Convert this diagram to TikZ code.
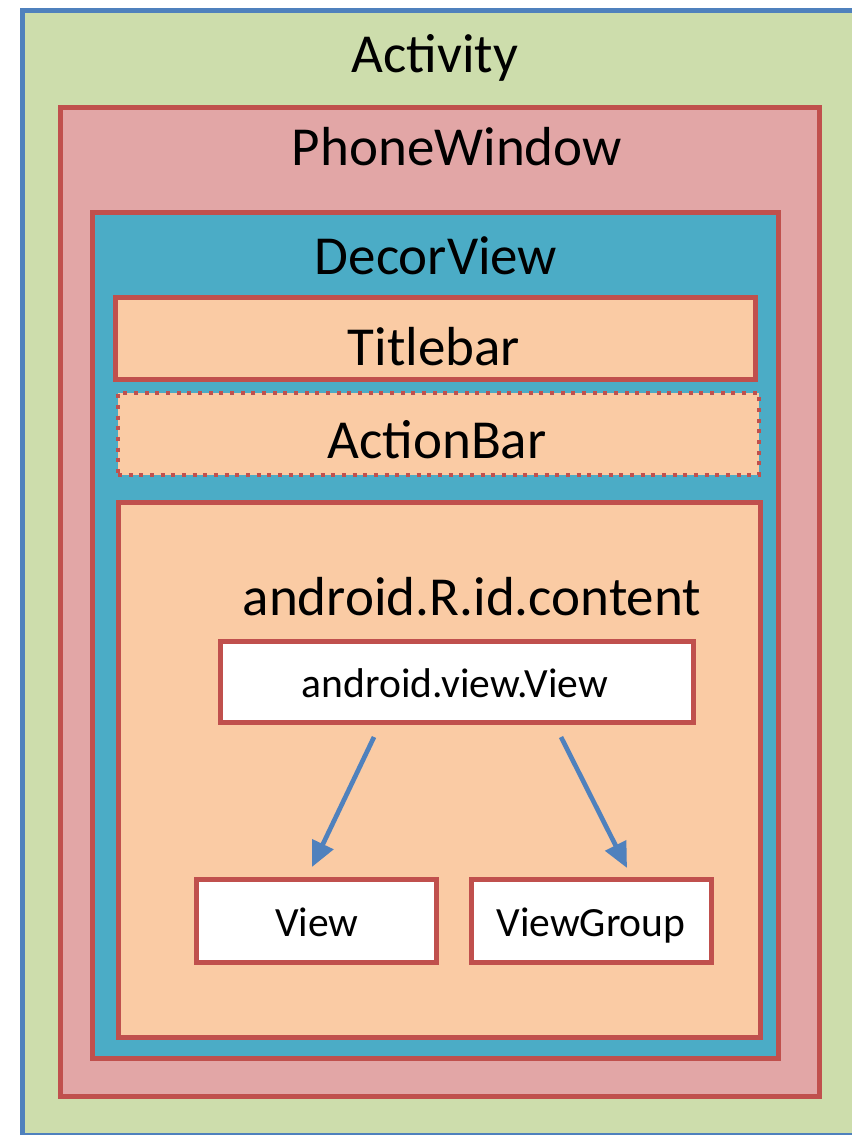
\documentclass[tikz,border=0pt]{standalone}
\usepackage{fontspec}
\setmainfont{Carlito}
\usetikzlibrary{fit,arrows.meta}
\definecolor{actgreen}{RGB}{205,221,172}
\definecolor{outerblue}{RGB}{79,129,189}
\definecolor{boxred}{RGB}{192,80,77}
\definecolor{winpink}{RGB}{226,166,166}
\definecolor{decorblue}{RGB}{75,172,198}
\definecolor{peach}{RGB}{250,203,164}
\definecolor{arrowblue}{RGB}{79,129,189}
\begin{document}
\begin{tikzpicture}[x=0.75pt,y=-0.75pt,
  frame/.style={draw=boxred, line width=3.75pt, inner sep=0pt, outer sep=0pt},
  dotframe/.style={draw=boxred, line width=3pt, dash pattern=on 3pt off 5pt, inner sep=0pt, outer sep=0pt},
  big/.style={font=\fontsize{41.25}{50}\selectfont, anchor=base, inner sep=0pt},
  small/.style={font=\fontsize{31.2}{38}\selectfont, anchor=base, inner sep=0pt},
  arr/.style={draw=arrowblue, line width=3.5pt, -{Triangle[length=19pt,width=17pt]}}]
\useasboundingbox (0,0) rectangle (852,1135);
\clip (0,0) rectangle (852,1135);
\fill[white] (0,0) rectangle (852,1135);
% boxes
\node[fit={(22.5,10.5) (880,1135.5)}, draw=outerblue, fill=actgreen, line width=3.75pt, inner sep=0pt] (activity) {};
\node[fit={(60.5,107.5) (819.5,1096.5)}, frame, fill=winpink] (phonewindow) {};
\node[fit={(92.5,212.5) (778.5,1058.5)}, frame, fill=decorblue] (decorview) {};
\node[fit={(115.5,297.5) (755.5,379.5)}, frame, fill=peach] (titlebar) {};
\node[fit={(118,393) (759,475)}, fill=peach, inner sep=0pt] (actionbarfill) {};
\node[fit={(118,393) (759,475)}, dotframe] (actionbar) {};
\node[fit={(118.5,502.5) (760.5,1037.5)}, frame, fill=peach] (content) {};
\node[fit={(220.5,641.5) (693.5,722)}, frame, fill=white] (av) {};
\node[fit={(196.5,879.5) (436.5,962.5)}, frame, fill=white] (view) {};
\node[fit={(471.5,879.5) (711.5,962.5)}, frame, fill=white] (viewgroup) {};
% labels
\node[big] (lact) at (435,72) {Activity};
\node[big] (lpw) at (457,165) {PhoneWindow};
\node[big] (ldv) at (436,274) {DecorView};
\node[big] (ltb) at (434,365) {Titlebar};
\node[big] (lab) at (437,458) {ActionBar};
\node[big] (lct) at (472,615) {android.R.id.content};
\node[small] (lav) at (455,697) {android.view.View};
\node[small] (lv) at (317,936) {View};
\node[small] (lvg) at (591,936) {ViewGroup};
% arrows
\coordinate (a1s) at (374,737);
\coordinate (a1e) at (312,867);
\coordinate (a2s) at (561,737);
\coordinate (a2e) at (627,868);
\draw[arr] (a1s) -- (a1e);
\draw[arr] (a2s) -- (a2e);
\end{tikzpicture}
\end{document}
